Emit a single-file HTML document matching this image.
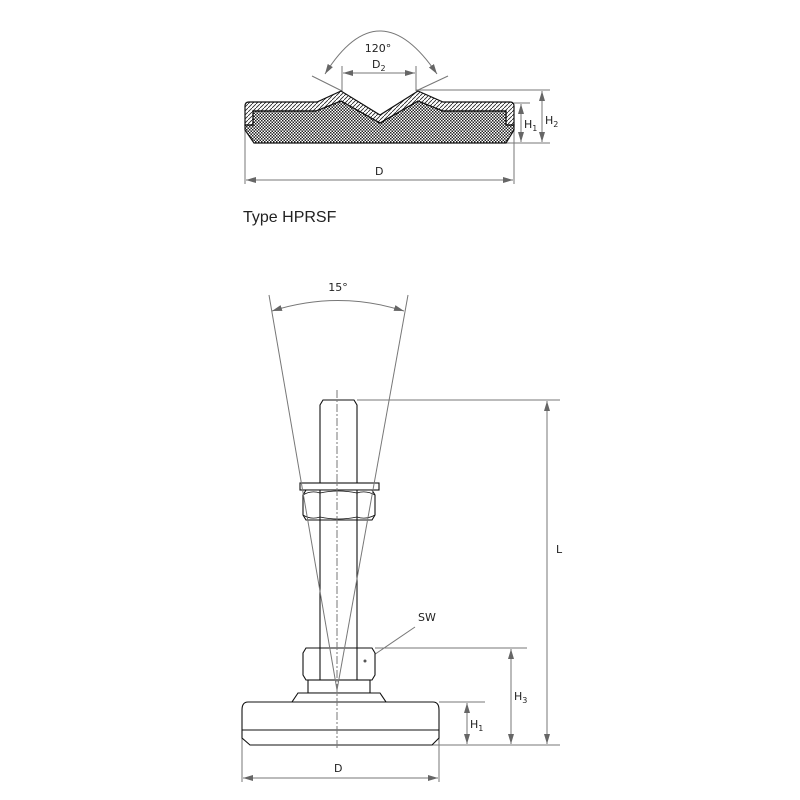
<!DOCTYPE html>
<html><head><style>body{margin:0;background:#fff}svg{display:block}</style></head><body>
<svg width="800" height="800" viewBox="0 0 800 800" xmlns="http://www.w3.org/2000/svg" font-family="DejaVu Sans, sans-serif">
<defs>
<pattern id="hat" width="4" height="4" patternUnits="userSpaceOnUse"><path d="M-1,5 L5,-1" stroke="#222" stroke-width="0.8"/></pattern>
<pattern id="chk" width="3" height="3" patternUnits="userSpaceOnUse"><rect width="3" height="3" fill="#fff"/><rect width="1.5" height="1.5" fill="#222"/><rect x="1.5" y="1.5" width="1.5" height="1.5" fill="#222"/></pattern>
<marker id="ar" viewBox="0 0 10 6" refX="10" refY="3" markerWidth="10" markerHeight="6" orient="auto-start-reverse" markerUnits="userSpaceOnUse"><path d="M0,0 L10,3 L0,6z" fill="#666"/></marker>
</defs>
<g fill="none" stroke="#777" stroke-width="1">
<line x1="342" y1="91" x2="312" y2="76"/><line x1="416" y1="91" x2="448" y2="76"/>
<line x1="342" y1="91" x2="342" y2="66"/><line x1="416" y1="91" x2="416" y2="66"/>
<line x1="343" y1="73" x2="415" y2="73" marker-start="url(#ar)" marker-end="url(#ar)"/>
<path d="M325,74 Q379,-12 437,74" marker-start="url(#ar)" marker-end="url(#ar)"/>
<line x1="416" y1="90" x2="550" y2="90"/><line x1="514" y1="103" x2="530" y2="103"/><line x1="506" y1="143" x2="550" y2="143"/>
<line x1="521" y1="104" x2="521" y2="142" marker-start="url(#ar)" marker-end="url(#ar)"/>
<line x1="542" y1="91" x2="542" y2="142" marker-start="url(#ar)" marker-end="url(#ar)"/>
<line x1="245" y1="127" x2="245" y2="184"/><line x1="514" y1="127" x2="514" y2="184"/>
<line x1="246" y1="180" x2="513" y2="180" marker-start="url(#ar)" marker-end="url(#ar)"/>
</g>
<path d="M253,111 L316,111 L341,101 L380,123 L418,101 L443,111 L506,111 L506,125 L514,125 L514,130 L506,143 L254,143 L245,130 L245,125 L253,125 Z" fill="url(#chk)" stroke="#111" stroke-width="1.2"/>
<path d="M249,102 L317,102 L341,91 L380,115 L418,91 L443,102 L510,102 Q514,102 514,106 L514,125 L506,125 L506,111 L443,111 L418,101 L380,123 L341,101 L316,111 L253,111 L253,125 L245,125 L245,106 Q245,102 249,102Z" fill="url(#hat)" stroke="#111" stroke-width="1.2"/>
<g font-size="11" fill="#222">
<text x="378" y="52" text-anchor="middle">120°</text>
<text x="372" y="68">D<tspan font-size="8" dy="3">2</tspan></text>
<text x="524" y="128">H<tspan font-size="8" dy="3">1</tspan></text>
<text x="545" y="124">H<tspan font-size="8" dy="3">2</tspan></text>
<text x="375" y="175">D</text>
</g>
<text x="243" y="222" font-size="16" fill="#222" font-family="Liberation Sans, sans-serif">Type HPRSF</text>
<g fill="none" stroke="#777" stroke-width="1">
<path d="M272,311 Q338,290 404,311" marker-start="url(#ar)" marker-end="url(#ar)"/>
<line x1="357" y1="400" x2="560" y2="400"/><line x1="375" y1="648" x2="527" y2="648"/><line x1="439" y1="702" x2="485" y2="702"/><line x1="432" y1="745" x2="560" y2="745"/>
<line x1="547" y1="401" x2="547" y2="744" marker-start="url(#ar)" marker-end="url(#ar)"/>
<line x1="511" y1="649" x2="511" y2="744" marker-start="url(#ar)" marker-end="url(#ar)"/>
<line x1="467" y1="703" x2="467" y2="744" marker-start="url(#ar)" marker-end="url(#ar)"/>
<line x1="242" y1="730" x2="242" y2="782"/><line x1="439" y1="730" x2="439" y2="782"/>
<line x1="243" y1="778" x2="438" y2="778" marker-start="url(#ar)" marker-end="url(#ar)"/>
<line x1="415" y1="627" x2="365" y2="661"/>
</g>
<g fill="#fff" stroke="#111" stroke-width="1.1">
<path d="M320,405 L323,400 L354,400 L357,405 L357,650 L320,650 Z"/>
<rect x="300" y="483" width="79" height="7"/>
<path d="M306,490 L372,490 L375,495 L375,515 L372,520 L306,520 L303,515 L303,495 Z"/>
<path d="M306,648 L372,648 L375,653 L375,675 L372,680 L306,680 L303,675 L303,653 Z"/>
<rect x="308" y="680" width="62" height="13"/>
<path d="M298,693 L380,693 L386,702 L292,702 Z"/>
<path d="M248,702 L433,702 Q439,702 439,710 L439,738 L432,745 L250,745 L242,738 L242,710 Q242,702 248,702 Z"/>
<line x1="242" y1="730" x2="439" y2="730"/>
<path d="M320,490 v30 M357,490 v30 M320,648 v32 M357,648 v32" fill="none"/>
<path d="M303,495 Q311,490 320,493 Q338,489 357,493 Q366,490 375,495 M303,515 Q311,520 320,517 Q338,521 357,517 Q366,520 375,515" fill="none" stroke-width="0.8"/>
</g>
<circle cx="365" cy="661" r="1.5" fill="#555"/>
<line x1="337" y1="390" x2="337" y2="750" stroke="#777" stroke-dasharray="8,2,2,2"/>
<g fill="none" stroke="#777"><line x1="269" y1="295" x2="337" y2="690"/><line x1="408" y1="295" x2="337" y2="690"/></g>
<g font-size="11" fill="#222">
<text x="338" y="291" text-anchor="middle">15°</text>
<text x="556" y="553">L</text>
<text x="514" y="700">H<tspan font-size="8" dy="3">3</tspan></text>
<text x="470" y="728">H<tspan font-size="8" dy="3">1</tspan></text>
<text x="418" y="621">SW</text>
<text x="334" y="772">D</text>
</g>
</svg>
</body></html>
